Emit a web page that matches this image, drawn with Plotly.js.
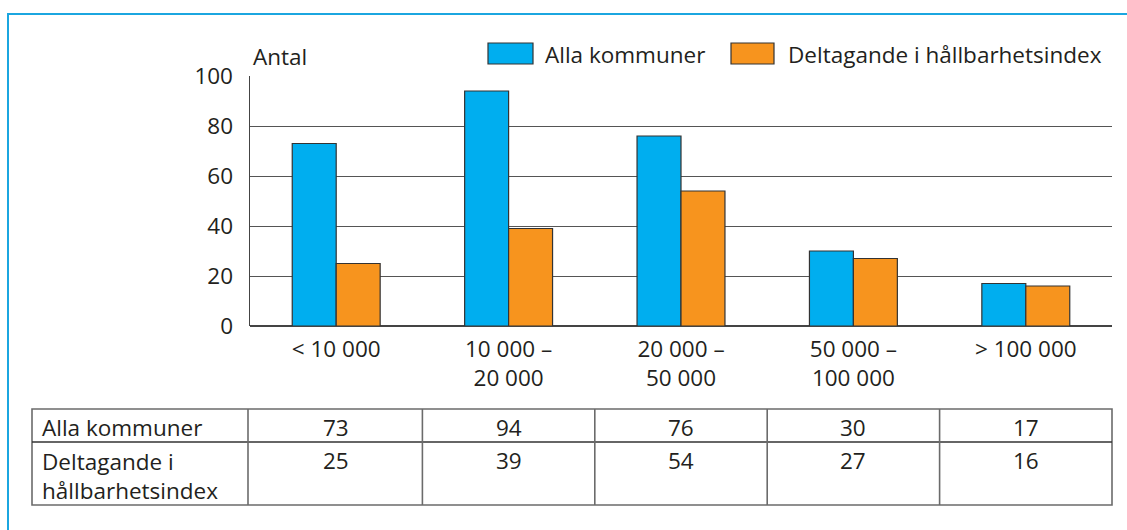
<!DOCTYPE html>
<html>
<head>
<meta charset="utf-8">
<script src="https://cdn.plot.ly/plotly-3.0.1.min.js"></script>
<style>html,body{margin:0;padding:0;background:#fff;}#chart{width:1127px;height:530px;}</style>
</head>
<body>
<div id="chart"></div>
<script>
const categories = ["< 10 000", "10 000 –<br>20 000", "20 000 –<br>50 000", "50 000 –<br>100 000", "> 100 000"];
const seriesNames = ["Alla kommuner", "Deltagande i hållbarhetsindex"];
const tableRowLabels = ["Alla kommuner", "Deltagande i<br>hållbarhetsindex"];
const allaKommuner = [73, 94, 76, 30, 17];
const deltagande = [25, 39, 54, 27, 16];
const yTicks = [0, 20, 40, 60, 80, 100];

const W = 1127, H = 530;
const px = x => x / W;
const py = y => 1 - y / H;
const FONT = "'Open Sans', 'Noto Sans', sans-serif";
const FS = 22.5;
const TXT = "#231F20";
const BLUE = "#00AEEF";
const ORANGE = "#F7941E";
const TLINE = {color: "#6b6b6b", width: 1.6};

const bars = [
  {type: "bar", x: categories, y: allaKommuner, name: seriesNames[0],
   marker: {color: BLUE, line: {color: "#333", width: 1.2}}, hoverinfo: "y"},
  {type: "bar", x: categories, y: deltagande, name: seriesNames[1],
   marker: {color: ORANGE, line: {color: "#333", width: 1.2}}, hoverinfo: "y"}
];

// Table drawn as lines + text, columns follow the category axis
const tTop = 409, tMid = 442, tBot = 505;
const shapes = [
  {type: "path", xref: "paper", yref: "paper",
   path: `M ${px(8)} ${py(530)} L ${px(8)} ${py(14)} L ${px(1127)} ${py(14)}`,
   line: {color: "#1BA6E0", width: 2}},
  {type: "rect", xref: "paper", yref: "paper",
   x0: px(488), x1: px(533), y0: py(64), y1: py(43),
   fillcolor: BLUE, line: {color: "#333", width: 1.2}},
  {type: "rect", xref: "paper", yref: "paper",
   x0: px(731), x1: px(774), y0: py(64), y1: py(43),
   fillcolor: ORANGE, line: {color: "#333", width: 1.2}},
  {type: "rect", xref: "paper", yref: "paper",
   x0: px(32), x1: px(1112), y0: py(tBot), y1: py(tTop), line: TLINE},
  {type: "line", xref: "paper", yref: "paper",
   x0: px(32), x1: px(1112), y0: py(tMid), y1: py(tMid), line: {color: "#333", width: 1.4}},
  {type: "line", xref: "paper", yref: "paper",
   x0: px(248), x1: px(248), y0: py(tBot), y1: py(tTop), line: TLINE}
];
categories.forEach((c, i) => {
  if (i === 0) return;
  shapes.push({type: "line", xref: "x", yref: "paper",
    x0: i - 0.5, x1: i - 0.5, y0: py(tBot), y1: py(tTop), line: TLINE});
});

const annotations = [
  {xref: "paper", yref: "paper", x: px(251), y: py(57), text: "Antal",
   showarrow: false, xanchor: "left", yanchor: "middle"},
  {xref: "paper", yref: "paper", x: px(543), y: py(55), text: seriesNames[0],
   showarrow: false, xanchor: "left", yanchor: "middle"},
  {xref: "paper", yref: "paper", x: px(786), y: py(55), text: seriesNames[1],
   showarrow: false, xanchor: "left", yanchor: "middle"},
  {xref: "paper", yref: "paper", x: px(40), y: py(427), text: tableRowLabels[0],
   showarrow: false, xanchor: "left", yanchor: "middle"},
  {xref: "paper", yref: "paper", x: px(40), y: py(444), text: tableRowLabels[1],
   showarrow: false, xanchor: "left", yanchor: "top", align: "left"}
];
categories.forEach((c, i) => {
  annotations.push({xref: "x", yref: "paper", x: i, y: py(427), text: String(allaKommuner[i]),
    showarrow: false, xanchor: "center", yanchor: "middle"});
  annotations.push({xref: "x", yref: "paper", x: i, y: py(460), text: String(deltagande[i]),
    showarrow: false, xanchor: "center", yanchor: "middle"});
});
annotations.forEach(a => { a.font = {family: FONT, size: FS, color: TXT}; });

const layout = {
  width: W, height: H,
  margin: {l: 0, r: 0, t: 0, b: 0},
  paper_bgcolor: "#fff", plot_bgcolor: "#fff",
  showlegend: false,
  barmode: "group",
  bargap: 0.49,
  bargroupgap: 0,
  font: {family: FONT, color: TXT, size: FS},
  xaxis: {
    domain: [px(250), px(1112)],
    anchor: "y",
    range: [-0.5, 4.5],
    showgrid: false, showline: false, zeroline: false,
    ticks: "", ticklabelstandoff: 7,
    tickfont: {family: FONT, size: FS, color: TXT},
    fixedrange: true
  },
  yaxis: {
    domain: [py(326), py(76)],
    anchor: "x",
    range: [0, 100],
    tickvals: yTicks,
    showgrid: true, gridcolor: "#555", gridwidth: 1,
    zeroline: true, zerolinecolor: "#444", zerolinewidth: 1.5,
    showline: true, linecolor: "#444", linewidth: 1.5,
    ticks: "", ticklabelstandoff: 11,
    tickfont: {family: FONT, size: FS, color: TXT},
    fixedrange: true
  },
  shapes: shapes,
  annotations: annotations
};

Plotly.newPlot("chart", bars, layout, {displayModeBar: false, staticPlot: true});
</script>
</body>
</html>
